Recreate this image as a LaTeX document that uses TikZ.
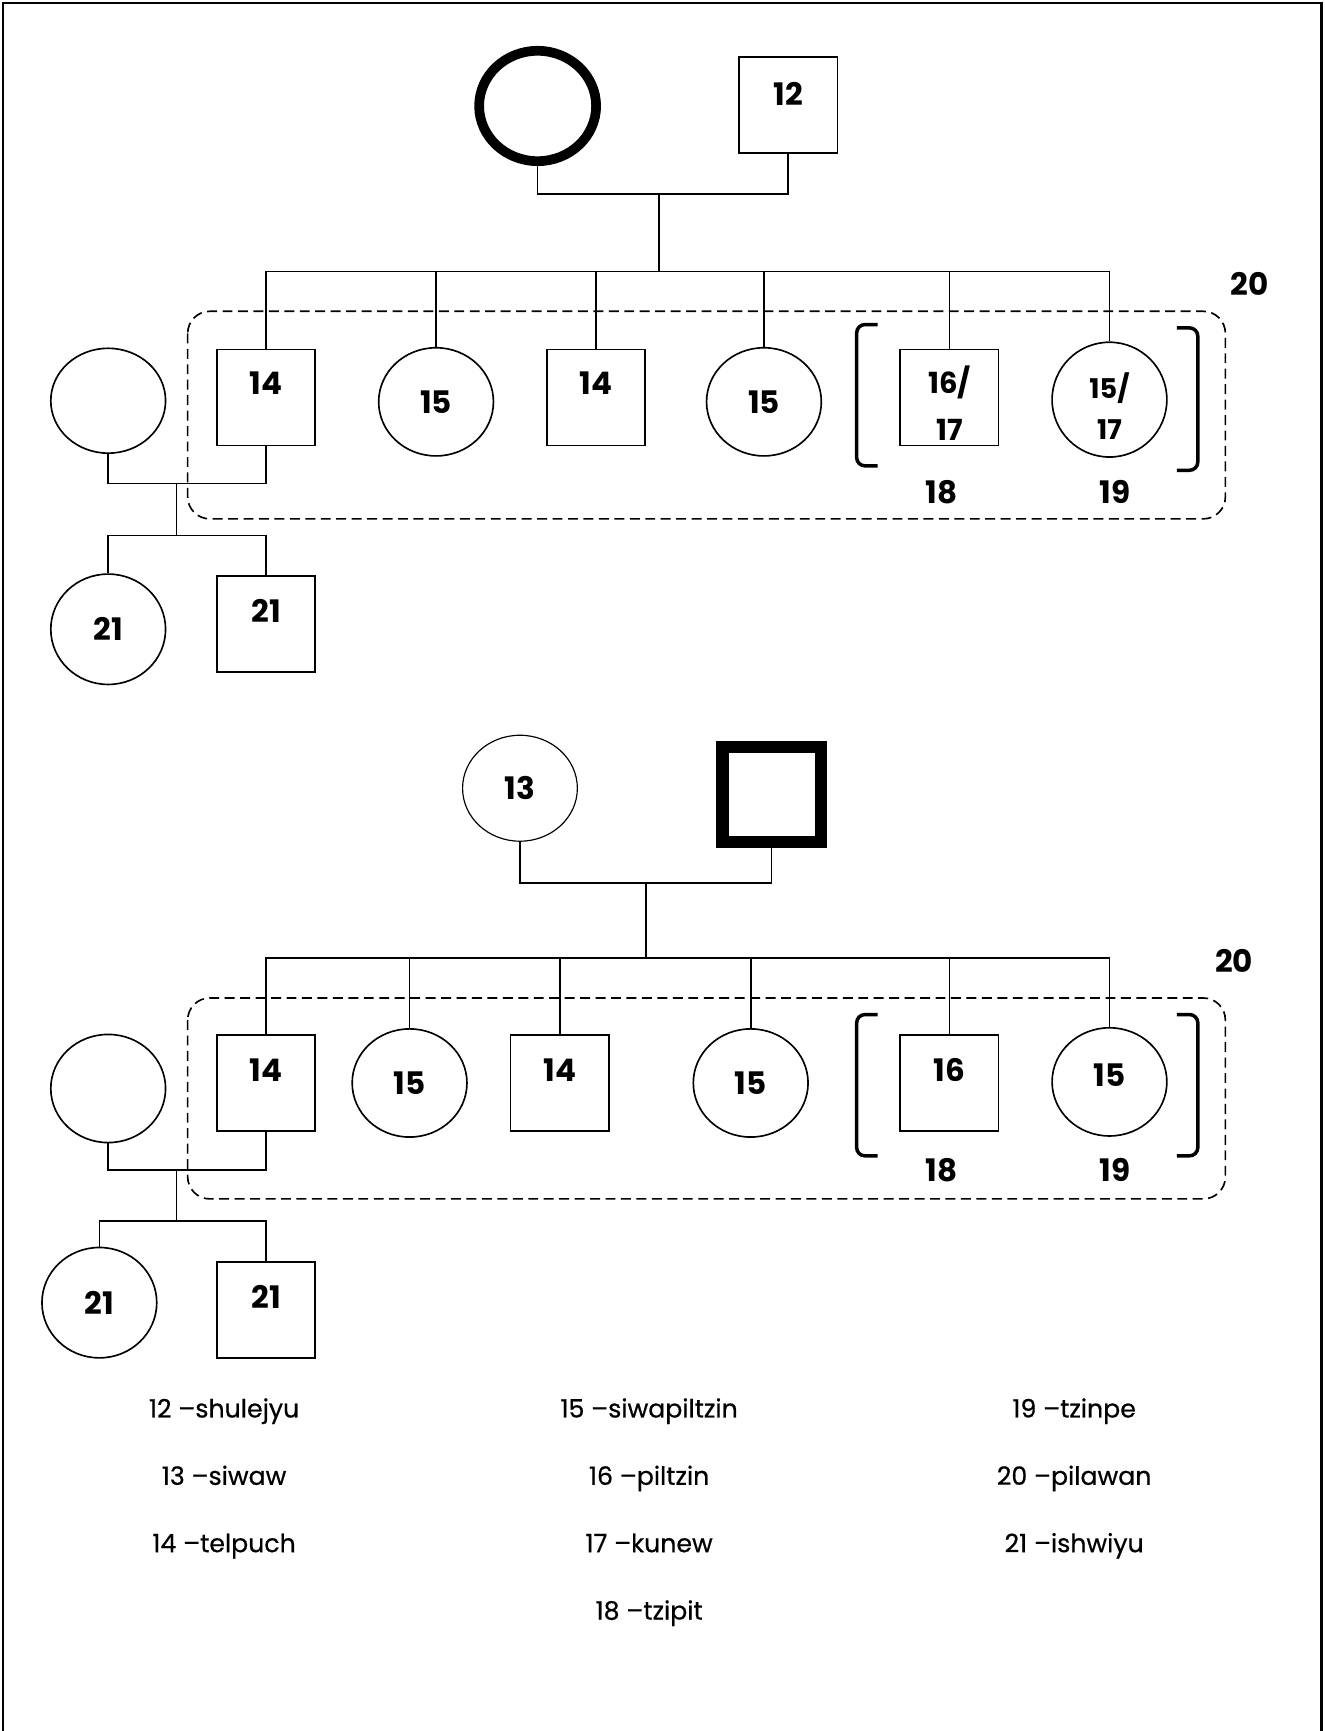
\documentclass[tikz,border=0pt]{standalone}
\usepackage{fontspec}
\setmainfont{Poppins}
\newfontfamily\legfont[FakeBold=0.6]{Poppins}
\usetikzlibrary{shapes.geometric}
\tikzset{
  male/.style={draw, rectangle, line width=0.85pt, minimum width=1.78cm, minimum height=1.74cm, inner sep=0pt},
  female/.style={draw, ellipse, line width=0.85pt, minimum width=2.08cm, minimum height=1.96cm, inner sep=0pt},
  num/.style={font=\bfseries\fontsize{16}{16}\selectfont},
  link/.style={line width=0.85pt},
  group/.style={dash pattern=on 0.18cm off 0.1cm, line width=0.85pt, rounded corners=0.4cm},
  brk/.style={line width=1.8pt, rounded corners=0.15cm},
  legend/.style={anchor=base, font=\legfont\fontsize{13}{13}\selectfont}
}

\begin{document}
\begin{tikzpicture}[x=0.02cm, y=-0.02cm]
\useasboundingbox (0,0) rectangle (1200,1568);
\draw[line width=1.2pt] (3,1568) -- (3,3) -- (1197,3) -- (1197,1568);

\node[female, line width=5pt, minimum width=2.12cm, minimum height=2cm] (mom1) at (487,96) {};
\node[male, label={[num, yshift=0.2cm]center:12}] (dad1) at (714,95) {};
\coordinate (p1) at (597,176);
\coordinate (s1) at (597,246);
\node[male, label={[num, yshift=0.26cm]center:14}] (a1) at (241,360) {};
\node[female, num] (a2) at (395,364) {15};
\node[male, label={[num, yshift=0.26cm]center:14}] (a3) at (540,360) {};
\node[female, num] (a4) at (692,364) {15};
\node[male, label={[num, font=\bfseries\fontsize{15}{24}\selectfont, align=center, yshift=-0.1cm]center:16/\\17}] (a5) at (860,360) {};
\node[female, minimum height=2.08cm, label={[num, font=\bfseries\fontsize{14}{21}\selectfont, align=center, yshift=-0.12cm]center:15/\\17}] (a6) at (1005,362) {};
\node[female, minimum height=1.9cm] (sp1) at (98,363) {};
\coordinate (m1) at (160,438);
\coordinate (k1) at (160,485);
\node[female, num, minimum height=2cm] (c1) at (98,570) {21};
\node[male, label={[num, yshift=0.24cm]center:21}] (c2) at (241,565) {};

\draw[link] (mom1.south) |- (p1) -| (dad1.south);
\draw[link] (p1) -- (s1);
\foreach \k in {a1,a2,a3,a4,a5,a6}
  \draw[link] (s1) -| (\k.north);
\draw[link] (sp1.south) |- (m1) -| (a1.south);
\draw[link] (m1) -- (k1);
\draw[link] (k1) -| (c1.north);
\draw[link] (k1) -| (c2.north);

\draw[group] (170,282) rectangle (1110,470);
\draw[brk] (795,294) -- (776,294) -- (776,422) -- (795,422);
\draw[brk] (1066,297) -- (1085,297) -- (1085,426) -- (1066,426);
\node[num] (l18a) at (853,446) {18};
\node[num] (l19a) at (1010,446) {19};
\node[num] (l20a) at (1132,257) {20};

\node[female, line width=0.6pt, num, minimum height=1.92cm] (mom2) at (471,714) {13};
\node[male, line width=6.3pt, minimum height=1.72cm] (dad2) at (699,719.5) {};
\coordinate (p2) at (585,800);
\coordinate (s2) at (585,868);
\node[male, label={[num, yshift=0.24cm]center:14}] (b1) at (241,981) {};
\node[female, num] (b2) at (371,981) {15};
\node[male, label={[num, yshift=0.24cm]center:14}] (b3) at (507,981) {};
\node[female, num] (b4) at (680,981) {15};
\node[male, label={[num, yshift=0.24cm]center:16}] (b5) at (860,981) {};
\node[female, label={[num, yshift=0.12cm]center:15}] (b6) at (1005,980) {};
\node[female] (sp2) at (98,986) {};
\coordinate (m2) at (160,1060);
\coordinate (k2) at (160,1106);
\node[female, num, minimum height=2cm] (d1) at (90,1180) {21};
\node[male, label={[num, yshift=0.23cm]center:21}] (d2) at (241,1186.5) {};

\draw[link] (mom2.south) |- (p2) -| (dad2.south);
\draw[link] (p2) -- (s2);
\foreach \k in {b1,b2,b3,b4,b5,b6}
  \draw[link] (s2) -| (\k.north);
\draw[link] (sp2.south) |- (m2) -| (b1.south);
\draw[link] (m2) -- (k2);
\draw[link] (k2) -| (d1.north);
\draw[link] (k2) -| (d2.north);

\draw[group] (170,904) rectangle (1110,1086);
\draw[brk] (795,919) -- (776,919) -- (776,1047) -- (795,1047);
\draw[brk] (1066,919) -- (1085,919) -- (1085,1047) -- (1066,1047);
\node[num] (l18b) at (853,1060) {18};
\node[num] (l19b) at (1010,1060) {19};
\node[num] (l20b) at (1118,870) {20};

\node[legend] (t12) at (203,1284) {12 –shulejyu};
\node[legend] (t13) at (203,1345) {13 –siwaw};
\node[legend] (t14) at (203,1406) {14 –telpuch};
\node[legend] (t15) at (588,1284) {15 –siwapiltzin};
\node[legend] (t16) at (588,1345) {16 –piltzin};
\node[legend] (t17) at (588,1406) {17 –kunew};
\node[legend] (t18) at (588,1467) {18 –tzipit};
\node[legend] (t19) at (973,1284) {19 –tzinpe};
\node[legend] (t20) at (973,1345) {20 –pilawan};
\node[legend] (t21) at (973,1406) {21 –ishwiyu};
\end{tikzpicture}
\end{document}
